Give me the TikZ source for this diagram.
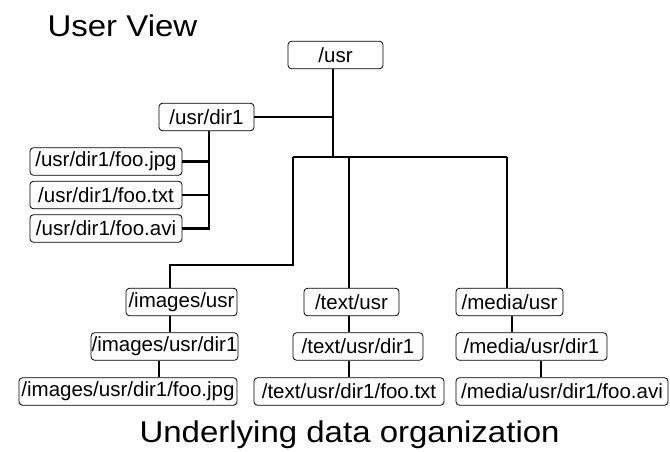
\documentclass[tikz,border=0pt]{standalone}
\usepackage{fontspec}
\usepackage{tikz}
\newfontfamily\boxfont{Liberation Sans}
\newfontfamily\headfont[FakeStretch=1.1]{Liberation Sans}
\tikzset{
	dirbox/.style={draw, rounded corners=3.5pt, line width=0.8pt, inner xsep=0.5pt, inner ysep=0pt,
		minimum height=27.5pt, font=\boxfont\fontsize{20.5}{24}\selectfont},
	link/.style={line width=2.9pt}
}

\begin{document}
\begin{tikzpicture}[x=1pt, y=-1pt]
			\useasboundingbox (0,0) rectangle (670,452);
			\node[anchor=base west, font=\headfont\fontsize{30}{36}\selectfont] (uv) at (44,37) {User View};
			\node[anchor=base west, font=\headfont\fontsize{30}{36}\selectfont] (udo) at (136,442) {Underlying data organization};
			\node[dirbox, minimum width=95pt] (usr) at (335.5,55) {/usr};
			\node[dirbox, minimum width=95pt] (dir) at (206.5,117) {/usr/dir1};
			\node[dirbox, minimum width=152pt] (jpg) at (106,161.5) {/usr/dir1/foo.jpg};
			\node[dirbox, minimum width=152pt] (txt) at (106,195) {/usr/dir1/foo.txt};
			\node[dirbox, minimum width=152pt] (avi) at (106,228.5) {/usr/dir1/foo.avi};
			\node[dirbox, minimum width=111pt] (iu) at (181.5,302) {/images/usr};
			\node[dirbox, minimum width=145pt] (iud) at (164.5,346.5) {/images/usr/dir1};
			\node[dirbox, minimum width=218pt] (iuf) at (128,391.5) {/images/usr/dir1/foo.jpg};
			\node[dirbox, minimum width=95pt] (tu) at (351.5,302) {/text/usr};
			\node[dirbox, minimum width=130pt] (tud) at (358,346.5) {/text/usr/dir1};
			\node[dirbox, minimum width=190pt] (tuf) at (349,391.5) {/text/usr/dir1/foo.txt};
			\node[dirbox, minimum width=107pt] (mu) at (509.5,302) {/media/usr};
			\node[dirbox, minimum width=151pt] (mud) at (531.5,346.5) {/media/usr/dir1};
			\node[dirbox, minimum width=212pt] (muf) at (562,391.5) {/media/usr/dir1/foo.avi};
			\coordinate (hub) at (333,157);
			\coordinate (bl) at (293,157);
			\coordinate (br) at (507,157);
			\coordinate (tx) at (349,157);
			\coordinate (dx) at (209,0);
			\coordinate (ibend) at (170,265);
			\coordinate (ix) at (159,0);
			\coordinate (mx) at (512,0);
			\coordinate (mfx) at (541,0);
			\path[link]
			(usr.south -| hub) edge (hub)
			(dir.east) edge (dir.east -| hub)
			(jpg.east) edge (jpg.east -| dx)
			(txt.east) edge (txt.east -| dx)
			(tx) edge (tu.north -| tx)
			(br) edge (mu.north -| br)
			(iu.south -| ibend) edge (iud.north -| ibend)
			(iud.south -| ix) edge (iuf.north -| ix)
			(tu.south -| tx) edge (tud.north -| tx)
			(tud.south -| tx) edge (tuf.north -| tx)
			(mu.south -| mx) edge (mud.north -| mx)
			(mud.south -| mfx) edge (muf.north -| mfx);
			\draw[link] (dir.south -| dx) |- (avi.east);
			\draw[link] (bl) -- (br);
			\draw[link] (bl) |- (ibend) -- (iu.north -| ibend);
		\end{tikzpicture}
\end{document}
